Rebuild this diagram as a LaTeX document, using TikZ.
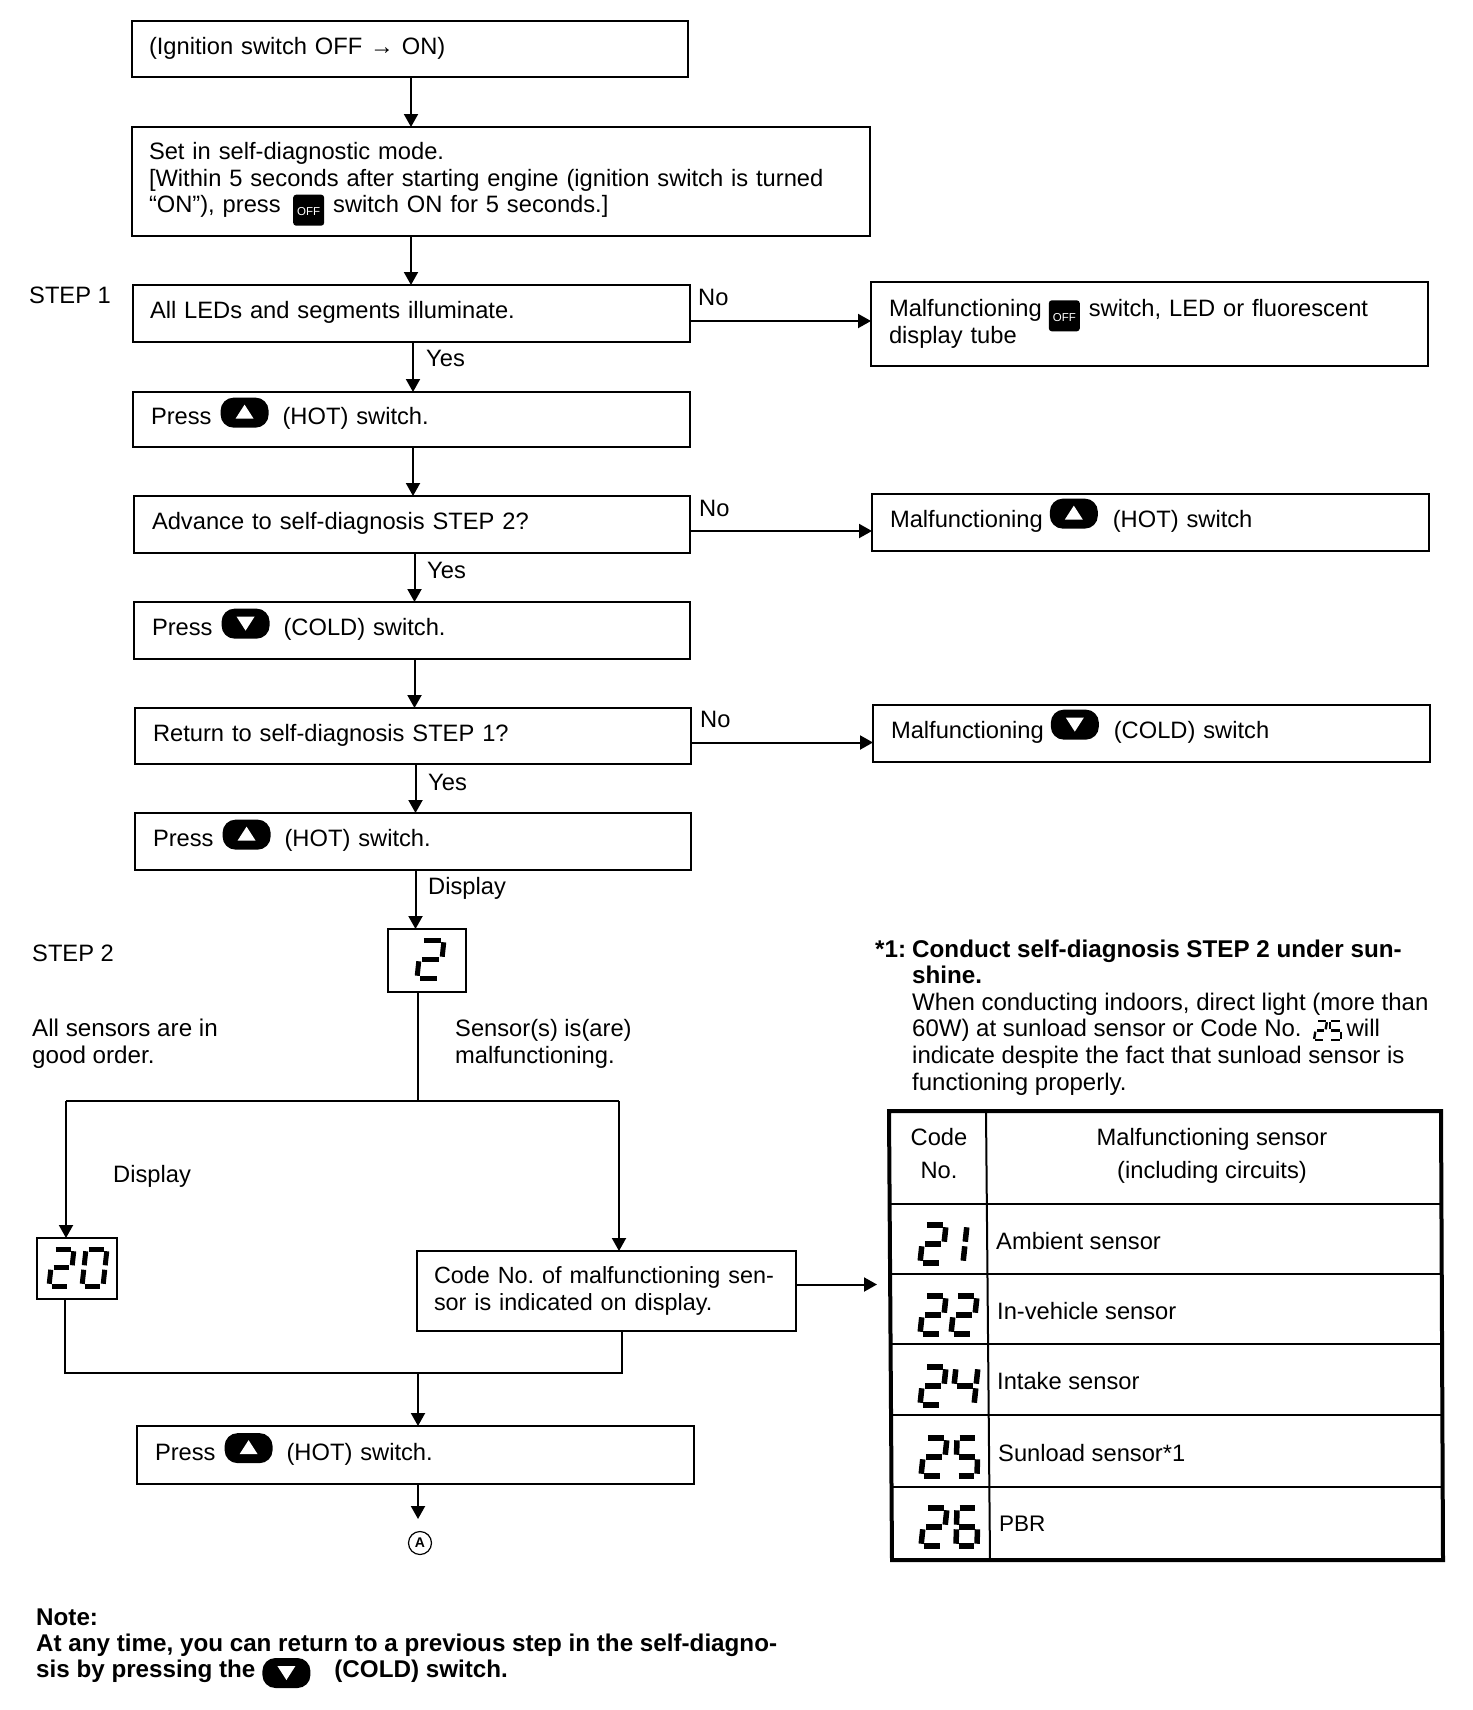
\documentclass[tikz,border=0pt]{standalone}
\usepackage{fontspec}
\setmainfont{Liberation Sans}
\usetikzlibrary{arrows.meta,calc}
\newcommand\fs{\fontsize{23.7}{26.6}\selectfont\frenchspacing}
\newcommand\bfs{\fontsize{24.2}{26.6}\selectfont\bfseries\frenchspacing}
\newcommand\lift[2]{\raisebox{#1}[\height][\depth]{#2}}
\newcommand\pillbase[2][-3pt]{\raisebox{#1}[0pt][0pt]{\tikz{\fill[black,rounded corners=13pt] (0pt,0pt) rectangle (48pt,30pt); \fill[white] #2;}}}
\newcommand\upbtn[1][-3pt]{\pillbase[#1]{(15pt,9pt)--(33pt,9pt)--(24pt,23pt)--cycle}}
\newcommand\dnbtn[1][-3pt]{\pillbase[#1]{(15pt,22pt)--(33pt,22pt)--(24pt,8pt)--cycle}}
\newcommand\offbtn[1][-14.5pt]{\raisebox{#1}[0pt][0pt]{\tikz{\fill[black,rounded corners=3pt] (0pt,0pt) rectangle (31pt,31pt); \pgftext[at={\pgfpoint{15.5pt}{14pt}}]{\color{white}\fontsize{11.5}{12}\selectfont OFF};}}}
\def\sega{(.13,1)--(.87,1)}
\def\segb{(1,.94)--(1,.56)}
\def\segc{(1,.44)--(1,.06)}
\def\segd{(.13,0)--(.87,0)}
\def\sege{(0,.44)--(0,.06)}
\def\segf{(0,.94)--(0,.56)}
\def\segg{(.13,.5)--(.87,.5)}
% x, bottom y, width, height, slant, line width, segments
\newcommand\digitseg[7]{\begin{scope}[shift={(#1,#2)},x={(#3pt,0pt)},y={(#5pt,#4pt)},line width=#6pt]
\foreach \s in {#7}{\expandafter\let\expandafter\tmpseg\csname seg\s\endcsname \draw \tmpseg;}
\end{scope}}
\newcommand\bx[6]{\pgfmathsetmacro\bw{#4-#2}\pgfmathsetmacro\bh{#5-#3}\pgfmathsetmacro\btw{#4-#2-36}
\node[box,minimum width=\bw pt,minimum height=\bh pt,text width=\btw pt] (#1) at ({(#2+#4)/2},{(#3+#5)/2}) {#6};}
\newcommand\conn[3]{\draw[arr] ([xshift=#3pt]#1.south) -- ([xshift=#3pt]#1.south |- #2.north);}
\newcommand\noarr[3]{\draw[arr] ([yshift=-#3pt]#1.east) -- ([yshift=-#3pt]#1.east -| #2.west);}
\tikzset{
 box/.style={draw=black,line width=2pt,inner xsep=18pt,inner ysep=0pt,outer sep=0pt,align=left,font=\fs},
 lbl/.style={anchor=base west,inner sep=0pt,font=\fs},
 arr/.style={line width=2pt,-{Triangle[length=13pt,width=14pt]}},
 ln/.style={line width=2pt},
 dispbox/.style={draw=black,line width=2pt,inner sep=0pt,outer sep=0pt},
 cell/.style={anchor=base west,inner sep=0pt,font=\fs},
 hdr/.style={anchor=base,inner sep=0pt,font=\fs,align=center},
}
\begin{document}
\begin{tikzpicture}[x=1pt,y=-1pt]
\useasboundingbox (0,0) rectangle (1472,1710);
\fill[white] (0,0) rectangle (1472,1710);
% main column
\bx{b1}{132}{21}{688}{77}{\hspace*{-1pt}\lift{1pt}{(Ignition switch OFF → ON)}}
\bx{b2}{132}{127}{870}{236}{\hspace*{-1pt}Set in self-diagnostic mode.\\[0pt]\hspace*{-1pt}{}[Within 5 seconds after starting engine (ignition switch is turned\\\hspace*{-1pt}“ON”), press\hspace{12.5pt}\offbtn[-13pt]\hspace{9pt}switch ON for 5 seconds.]\rule[-8pt]{0pt}{8pt}}
\bx{b3}{133}{285}{690}{342}{\hspace*{-1pt}\lift{1pt}{All LEDs and segments illuminate.}}
\bx{b4}{133}{392}{690}{447}{\lift{1pt}{Press\hspace{9pt}\upbtn\hspace{14pt}(HOT) switch.}}
\bx{b5}{134}{496}{690}{553}{\lift{1pt}{Advance to self-diagnosis STEP 2?}}
\bx{b6}{134}{602}{690}{659}{\lift{1pt}{Press\hspace{9pt}\dnbtn\hspace{14pt}(COLD) switch.}}
\bx{b7}{135}{708}{691}{764}{\lift{1pt}{Return to self-diagnosis STEP 1?}}
\bx{b8}{135}{813}{691}{870}{\lift{1pt}{Press\hspace{9pt}\upbtn\hspace{14pt}(HOT) switch.}}
\bx{b9}{137}{1426}{694}{1484}{\lift{1pt}{Press\hspace{9pt}\upbtn\hspace{14pt}(HOT) switch.}}
\bx{code}{417}{1251}{796}{1331}{\fontsize{23.4}{26.6}\selectfont\hspace*{-1pt}\hbox{Code No. of malfunctioning sen-}\\\hspace*{-1pt}sor is indicated on display.}
% right column
\bx{r1}{871}{282}{1428}{366}{Malfunctioning\hspace{7pt}\offbtn\hspace{9pt}switch, LED or fluorescent\\display tube}
\bx{r2}{872}{494}{1429}{551}{\lift{1pt}{Malfunctioning\hspace{7pt}\upbtn[-1pt]\hspace{15pt}(HOT) switch}}
\bx{r3}{873}{705}{1430}{762}{\lift{1pt}{Malfunctioning\hspace{7pt}\dnbtn[-1pt]\hspace{15pt}(COLD) switch}}
% display boxes
\node[dispbox,minimum width=78pt,minimum height=63pt] (d2) at (427,960.5) {};
\node[dispbox,minimum width=80pt,minimum height=61pt] (d20) at (77,1268.5) {};
% labels
\node[lbl] (s1) at (29,303) {STEP 1};
\node[lbl] (s2) at (32,961) {STEP 2};
\node[lbl] (n1) at (698,305) {No};
\node[lbl] (n2) at (699,516) {No};
\node[lbl] (n3) at (700,727) {No};
\node[lbl] (y1) at (426,366) {Yes};
\node[lbl] (y2) at (427,578) {Yes};
\node[lbl] (y3) at (428,790) {Yes};
\node[lbl] (disp1) at (428,894) {Display};
\node[lbl] (disp2) at (113,1182) {Display};
\node[lbl,align=left,font=\fontsize{24.2}{26.6}\selectfont] (good) at (32,1063) {All sensors are in\\good order.};
\node[lbl,align=left] (bad) at (455,1063) {Sensor(s) is(are)\\malfunctioning.};
% connectors
\conn{b1}{b2}{1}
\conn{b2}{b3}{-90}
\conn{b3}{b4}{1.5}
\conn{b4}{b5}{1.5}
\conn{b5}{b6}{2.5}
\conn{b6}{b7}{2.5}
\conn{b7}{b8}{2.5}
\draw[arr] ([xshift=2.5pt]b8.south) -- ([xshift=2.5pt]b8.south |- d2.north);
\noarr{b3}{r1}{7.5}
\noarr{b5}{r2}{6.5}
\noarr{b7}{r3}{6.5}
\coordinate (j1) at (418,1101);
\coordinate (jl) at (66,1101);
\coordinate (jr) at (619,1101);
\coordinate (k1) at (65,1373);
\coordinate (k2) at (622,1373);
\coordinate (k3) at (418,1373);
\coordinate (tbin) at (877,1284.5);
\coordinate (aend) at (418,1519);
\draw[ln] (j1 |- d2.south) -- (j1);
\draw[ln] (jl) -- (jr);
\draw[arr] (jl) -- (jl |- d20.north);
\draw[arr] (jr) -- (jr |- code.north);
\draw[ln] (k1 |- d20.south) -- (k1) -- (k2) -- (k2 |- code.south);
\draw[arr] (k3) -- (k3 |- b9.north);
\draw[arr] (code.east |- tbin) -- (tbin);
\draw[arr] (k3 |- b9.south) -- (aend);
\node[draw=black,circle,line width=1.2pt,minimum size=23pt,inner sep=0pt,font=\bfseries\fontsize{14}{14}\selectfont] (A) at (420,1543) {A};
% seven-segment displays
\digitseg{417}{978}{23}{38}{4}{5}{a,b,g,e,d}
\digitseg{49}{1286}{21}{37}{4}{5}{a,b,g,e,d}
\digitseg{82}{1286}{21}{37}{4}{5}{a,b,c,d,e,f}
% note *1
\node[lbl,font=\bfs] (star) at (875,957) {*1:};
\node[lbl,align=left,font=\fontsize{24}{26.6}\selectfont\frenchspacing] (note) at (912,1090) {{\bfs Conduct self-diagnosis STEP 2 under sun-}\\{\bfs shine.}\\When conducting indoors, direct light (more than\\60W) at sunload sensor or Code No.\hspace{45pt}will\\indicate despite the fact that sunload sensor is\\functioning properly.};
\digitseg{1314}{1040}{10}{19}{3}{2.4}{a,b,g,e,d}
\digitseg{1330}{1040}{11}{19}{0}{2.4}{a,f,g,c,d}
% table
\draw[line width=4pt,line join=miter] (889,1111) -- (1441,1111) -- (1443,1560) -- (892,1560) -- cycle;
\draw[ln] (986,1111) -- (990,1560);
\draw[ln] (889,1204) -- (1441,1204);
\draw[ln] (889,1274) -- (1442,1274);
\draw[ln] (890,1344) -- (1442,1344);
\draw[ln] (891,1415) -- (1443,1415);
\draw[ln] (891,1487) -- (1443,1487);
\node[hdr] (h1) at (939,1178) {Code\\[5.5pt]No.};
\node[hdr] (h2) at (1212,1178) {Malfunctioning sensor\\[5.5pt](including circuits)};
\node[cell] (c1) at (996,1249) {Ambient sensor};
\node[cell] (c2) at (997,1319) {In-vehicle sensor};
\node[cell] (c3) at (997,1389) {Intake sensor};
\node[cell] (c4) at (998,1461) {Sunload sensor*1};
\node[cell,font=\fontsize{22.5}{26}\selectfont] (c5) at (999,1531) {PBR};
\digitseg{920}{1263}{22}{38}{4}{5.5}{a,b,g,e,d}
\digitseg{957}{1263}{6}{38}{4}{5.5}{b,c}
\digitseg{920}{1334}{22}{38}{4}{5.5}{a,b,g,e,d}
\digitseg{951}{1334}{22}{38}{4}{5.5}{a,b,g,e,d}
\digitseg{920}{1405}{22}{38}{4}{5.5}{a,b,g,e,d}
\digitseg{952}{1405}{22}{38}{4}{5.5}{f,g,b,c}
\digitseg{921}{1476}{22}{38}{4}{5.5}{a,b,g,e,d}
\digitseg{956}{1476}{21}{38}{1}{5.5}{a,f,g,c,d}
\digitseg{921}{1546}{22}{38}{4}{5.5}{a,b,g,e,d}
\digitseg{956}{1546}{21}{38}{1}{5.5}{a,f,g,e,c,d}
% bottom note
\node[lbl,align=left,font=\bfs] (bnote) at (36,1677) {Note:\\[-1pt]At any time, you can return to a previous step in the self-diagno-\\[-1pt]sis by pressing the\hspace{7pt}\dnbtn[-11pt]\hspace{24pt}(COLD) switch.};
\end{tikzpicture}
\end{document}
